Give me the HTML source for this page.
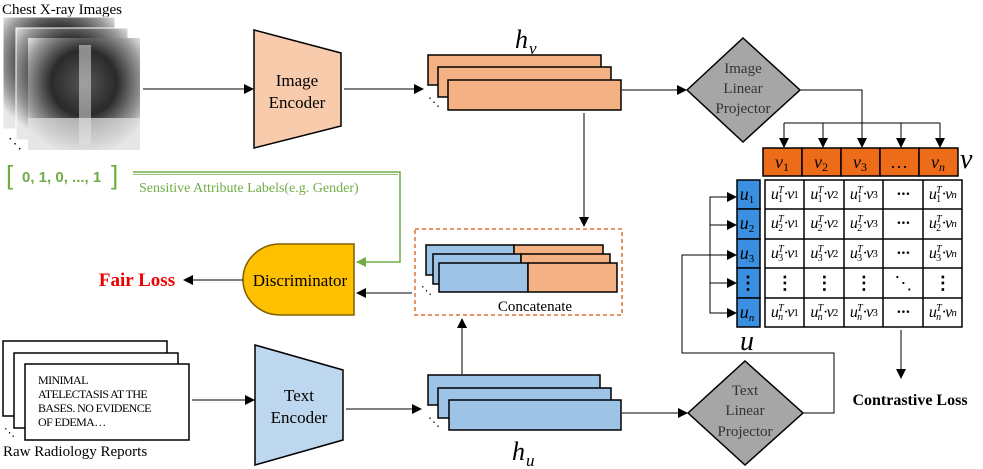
<!DOCTYPE html>
<html><head><meta charset="utf-8"><style>
body{margin:0;width:983px;height:469px;overflow:hidden;background:#fff;position:relative;font-family:"Liberation Serif",serif}
svg{position:absolute;left:0;top:0}
.c{position:absolute;display:flex;align-items:center;justify-content:center;font-family:"Liberation Serif",serif;font-style:italic;font-size:16px;white-space:nowrap;letter-spacing:-0.8px}
.ss{display:inline-flex;flex-direction:column;font-size:10px;line-height:9px;vertical-align:middle;margin:0 1px 0 0}
.ss span{display:block}
.sub{font-size:11px;vertical-align:-4px}
</style></head><body>
<svg width="983" height="469" viewBox="0 0 983 469">
<defs>
<marker id="a" markerWidth="10" markerHeight="10" refX="9" refY="5" orient="auto" markerUnits="userSpaceOnUse"><path d="M0,0 L10,5 L0,10z" fill="#000"/></marker>
<marker id="g" markerWidth="10" markerHeight="10" refX="9" refY="5" orient="auto" markerUnits="userSpaceOnUse"><path d="M0,0 L10,5 L0,10z" fill="#70ad47"/></marker>
<radialGradient id="x" cx="0.5" cy="0.4" r="0.65"><stop offset="0" stop-color="#555"/><stop offset="0.45" stop-color="#2a2a2a"/><stop offset="0.8" stop-color="#999"/><stop offset="1" stop-color="#e8e8e8"/></radialGradient>
</defs>
<g font-family="Liberation Serif" >
<text x="2" y="14" font-size="15">Chest X-ray Images</text>
<rect x="3" y="17" width="112" height="112" fill="url(#x)" stroke="#fff"/>
<rect x="16" y="28" width="112" height="112" fill="url(#x)" stroke="#fff"/>
<rect x="28" y="38" width="112" height="112" fill="url(#x)"/>
<rect x="79" y="45" width="12" height="100" fill="#ddd" opacity="0.55"/>
<rect x="28" y="118" width="112" height="32" fill="#e5e5e5" opacity="0.7"/>
<text x="8" y="148" font-size="14">⋱</text>
<line x1="143" y1="89" x2="253" y2="89" stroke="#000" marker-end="url(#a)"/>
<polygon points="254,30 341,53 341,126 254,148" fill="#f8cbad" stroke="#000" stroke-width="1.5"/>
<text x="297" y="86" font-size="17" text-anchor="middle">Image</text>
<text x="297" y="108" font-size="17" text-anchor="middle">Encoder</text>
<line x1="344" y1="89" x2="423" y2="89" stroke="#000" marker-end="url(#a)"/>
<text x="515" y="48" font-size="26" font-style="italic">h</text><text x="529" y="54" font-size="17" font-style="italic">v</text>
<rect x="428" y="55" width="173" height="30" fill="#f4b183" stroke="#000" stroke-width="1.5"/>
<rect x="438" y="67" width="173" height="30" fill="#f4b183" stroke="#000" stroke-width="1.5"/>
<rect x="448" y="80" width="173" height="30" fill="#f4b183" stroke="#000" stroke-width="1.5"/>
<text x="428" y="106" font-size="12">⋱</text>
<line x1="622" y1="90" x2="686" y2="90" stroke="#000" marker-end="url(#a)"/>
<polygon points="687,90 743,38 800,90 743,142" fill="#a6a6a6" stroke="#000" stroke-width="1.5"/>
<g font-size="15" fill="#333" text-anchor="middle"><text x="743" y="73">Image</text><text x="743" y="93">Linear</text><text x="743" y="113">Projector</text></g>
<polyline points="800,90 862,90 862,147" fill="none" stroke="#000" marker-end="url(#a)"/>
<line x1="784" y1="123" x2="940" y2="123" stroke="#000"/>
<g stroke="#000" marker-end="url(#a)"><line x1="784" y1="123" x2="784" y2="147"/><line x1="823" y1="123" x2="823" y2="147"/><line x1="901" y1="123" x2="901" y2="147"/><line x1="940" y1="123" x2="940" y2="147"/></g>
<g fill="#ed6c1a" stroke="#000" stroke-width="1.5"><rect x="763" y="148" width="39" height="28"/><rect x="802" y="148" width="39" height="28"/><rect x="841" y="148" width="39" height="28"/><rect x="880" y="148" width="39" height="28"/><rect x="919" y="148" width="39" height="28"/></g>
<g font-size="18" font-style="italic" text-anchor="middle"><text x="782" y="168">v<tspan font-size="12" dy="3" font-style="normal">1</tspan></text><text x="821" y="168">v<tspan font-size="12" dy="3" font-style="normal">2</tspan></text><text x="860" y="168">v<tspan font-size="12" dy="3" font-style="normal">3</tspan></text><text x="899" y="168" font-style="normal">…</text><text x="938" y="168">v<tspan font-size="12" dy="3">n</tspan></text></g>
<text x="960" y="168" font-size="28" font-style="italic">v</text>
<g fill="#3a8fe0" stroke="#000" stroke-width="1.5"><rect x="737" y="180" width="23" height="29"/><rect x="737" y="209" width="23" height="30"/><rect x="737" y="239" width="23" height="29"/><rect x="737" y="268" width="23" height="30"/><rect x="737" y="298" width="23" height="29"/></g>
<g font-size="18" font-style="italic" text-anchor="middle"><text x="747" y="200">u<tspan font-size="11" dy="3" font-style="normal">1</tspan></text><text x="747" y="229">u<tspan font-size="11" dy="3" font-style="normal">2</tspan></text><text x="747" y="259">u<tspan font-size="11" dy="3" font-style="normal">3</tspan></text><text x="748" y="289" font-style="normal" font-weight="bold">⋮</text><text x="747" y="318">u<tspan font-size="11" dy="3">n</tspan></text></g>
<text x="740" y="350" font-size="28" font-style="italic">u</text>
<g fill="#fff" stroke="#000" stroke-width="1.5">
<rect x="765" y="180" width="197" height="147"/></g>
<g stroke="#000" stroke-width="1.5"><line x1="804" y1="180" x2="804" y2="327"/><line x1="844" y1="180" x2="844" y2="327"/><line x1="883" y1="180" x2="883" y2="327"/><line x1="923" y1="180" x2="923" y2="327"/><line x1="765" y1="209" x2="962" y2="209"/><line x1="765" y1="239" x2="962" y2="239"/><line x1="765" y1="268" x2="962" y2="268"/><line x1="765" y1="298" x2="962" y2="298"/></g>
<polyline points="736,197 710,197 710,313 736,313" fill="none" stroke="#000"/>
<g stroke="#000" marker-end="url(#a)"><line x1="710" y1="197" x2="736" y2="197"/><line x1="710" y1="225" x2="736" y2="225"/><line x1="710" y1="283" x2="736" y2="283"/><line x1="710" y1="313" x2="736" y2="313"/></g>
<polyline points="803,413 834,413 834,353 682,353 682,255 736,255" fill="none" stroke="#000" marker-end="url(#a)"/>
<line x1="901" y1="330" x2="901" y2="378" stroke="#000" marker-end="url(#a)"/>
<text x="910" y="405" font-size="16" font-weight="bold" text-anchor="middle">Contrastive Loss</text>
<line x1="622" y1="413" x2="687" y2="413" stroke="#000" marker-end="url(#a)"/>
<polygon points="688,413 745,361 803,413 745,465" fill="#a6a6a6" stroke="#000" stroke-width="1.5"/>
<g font-size="15" fill="#333" text-anchor="middle"><text x="745" y="395">Text</text><text x="745" y="415">Linear</text><text x="745" y="436">Projector</text></g>
<line x1="584" y1="113" x2="584" y2="226" stroke="#000" marker-end="url(#a)"/>
<rect x="415" y="229" width="207" height="86" fill="none" stroke="#e07030" stroke-width="1.5" stroke-dasharray="4,3"/>
<g stroke="#000" stroke-width="1.5">
<rect x="426" y="245" width="88" height="30" fill="#9dc3e6"/><rect x="514" y="245" width="89" height="30" fill="#f4b183"/>
<rect x="433" y="254" width="88" height="30" fill="#9dc3e6"/><rect x="521" y="254" width="89" height="30" fill="#f4b183"/>
<rect x="439" y="263" width="89" height="29" fill="#9dc3e6"/><rect x="528" y="263" width="89" height="29" fill="#f4b183"/></g>
<text x="421" y="294" font-size="11">⋱</text>
<text x="535" y="311" font-size="15" text-anchor="middle">Concatenate</text>
<line x1="412" y1="293" x2="357" y2="293" stroke="#000" marker-end="url(#a)"/>
<path d="M354,244 L280,244 A37,35.5 0 0 0 280,315 L354,315 Z" fill="#ffc000" stroke="#7f6000" stroke-width="1.5"/>
<text x="300" y="286" font-size="17" text-anchor="middle">Discriminator</text>
<line x1="243" y1="280" x2="184" y2="280" stroke="#000" marker-end="url(#a)"/>
<text x="137" y="286" font-size="19" font-weight="bold" fill="#e00" text-anchor="middle">Fair Loss</text>
<polyline points="133,172 400,172 400,262 357,262" fill="none" stroke="#70ad47" stroke-width="1.5" marker-end="url(#g)"/>
<line x1="133" y1="174.5" x2="398" y2="174.5" stroke="#70ad47" stroke-width="0.8"/>
<text x="139" y="192" font-size="14" fill="#70ad47">Sensitive Attribute Labels(e.g. Gender)</text>
<text x="6" y="184" font-family="Liberation Sans" font-size="26" fill="#70ad47">[</text>
<text x="22" y="182" font-family="Liberation Sans" font-size="15" font-weight="bold" fill="#70ad47">0, 1, 0,  ..., 1</text>
<text x="111" y="184" font-family="Liberation Sans" font-size="26" fill="#70ad47">]</text>
<rect x="3" y="341" width="164" height="75" fill="#fff" stroke="#000" stroke-width="1.5"/>
<rect x="14" y="353" width="164" height="75" fill="#fff" stroke="#000" stroke-width="1.5"/>
<rect x="25" y="364" width="164" height="76" fill="#fff" stroke="#000" stroke-width="1.5"/>
<g font-size="12" letter-spacing="-0.6"><text x="38" y="384">MINIMAL</text><text x="38" y="398">ATELECTASIS AT THE</text><text x="38" y="412">BASES.  NO EVIDENCE</text><text x="38" y="426">OF EDEMA…</text></g>
<text x="4" y="436" font-size="11">⋱</text>
<text x="3" y="456" font-size="15">Raw Radiology Reports</text>
<line x1="192" y1="400" x2="254" y2="400" stroke="#000" marker-end="url(#a)"/>
<polygon points="255,345 343,370 343,440 255,465" fill="#bdd7ee" stroke="#000" stroke-width="1.5"/>
<text x="299" y="401" font-size="17" text-anchor="middle">Text</text>
<text x="299" y="423" font-size="17" text-anchor="middle">Encoder</text>
<line x1="346" y1="409" x2="421" y2="409" stroke="#000" marker-end="url(#a)"/>
<rect x="428" y="375" width="172" height="30" fill="#9dc3e6" stroke="#000" stroke-width="1.5"/>
<rect x="438" y="388" width="173" height="30" fill="#9dc3e6" stroke="#000" stroke-width="1.5"/>
<rect x="449" y="400" width="172" height="30" fill="#9dc3e6" stroke="#000" stroke-width="1.5"/>
<text x="428" y="426" font-size="12">⋱</text>
<line x1="462" y1="374" x2="462" y2="319" stroke="#000" marker-end="url(#a)"/>
<text x="512" y="460" font-size="26" font-style="italic">h</text><text x="526" y="466" font-size="17" font-style="italic">u</text>
</g>
</svg>
<div id="m"></div>
<script>
var xs=[765,804,844,883,923,962],ys=[180,209,239,268,298,327],r=['1','2','3','','n'],h='';
for(var i=0;i<5;i++)for(var j=0;j<5;j++){var t;
if(i==3){t=j==3?'<span style="font-style:normal;font-size:18px">⋱</span>':'<span style="font-style:normal;font-weight:bold;font-size:18px">⋮</span>'}
else if(j==3){t='<span style="font-style:normal;font-weight:bold">···</span>'}
else t='u<span class="ss"><span>T</span><span style="font-style:'+(i==4?'italic':'normal')+'">'+r[i]+'</span></span>·v<span class="sub" style="font-style:'+(j==4?'italic':'normal')+'">'+r[j]+'</span>';
h+='<div class="c" style="left:'+xs[j]+'px;top:'+ys[i]+'px;width:'+(xs[j+1]-xs[j])+'px;height:'+(ys[i+1]-ys[i])+'px">'+t+'</div>';}
document.getElementById('m').innerHTML=h;
</script>
</body></html>
